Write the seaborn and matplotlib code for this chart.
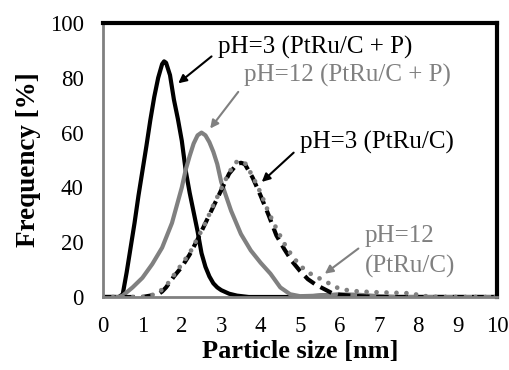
"""Particle size distributions of PtRu catalysts prepared at pH 3 and pH 12."""

import matplotlib.pyplot as plt
import seaborn as sns

# pH=3 (PtRu/C + P) - black solid
size_ph3_p = [0, 0.4, 0.5, 0.6, 0.7, 0.8, 0.9, 1.0, 1.1, 1.2, 1.3, 1.4, 1.5, 1.55, 1.6,
              1.7, 1.8, 1.9, 2.0, 2.1, 2.2, 2.3, 2.4, 2.5, 2.6, 2.7, 2.8, 2.9, 3.0,
              3.2, 3.4, 3.7, 5.0, 5.5, 6.0, 6.5, 7.0, 10]
freq_ph3_p = [0, 0, 1, 9, 18, 27, 37, 46, 55, 64.5, 73, 80, 85, 86, 85.5,
              81, 72, 65, 57, 46, 38, 31, 24, 16, 11, 7.5, 5, 3.5, 2.5,
              1.2, 0.5, 0, 0, 0.5, 0.7, 0.3, 0, 0]

# pH=12 (PtRu/C + P) - grey solid
size_ph12_p = [0, 0.4, 0.5, 0.75, 1.0, 1.25, 1.5, 1.75, 2.0, 2.1, 2.2, 2.3, 2.4, 2.5,
               2.6, 2.7, 2.8, 2.9, 3.0, 3.25, 3.5, 3.75, 4.0, 4.25, 4.5, 4.75, 5.0,
               5.5, 6.0, 6.5, 7.0, 7.5, 10]
freq_ph12_p = [0, 0, 0.5, 3.5, 7, 12, 18, 27, 40, 46.5, 51.5, 56, 59, 60,
               59, 56.5, 53, 48.5, 42, 31.5, 23, 17, 12.5, 8.5, 3.5, 1, 0.3,
               0.5, 1, 0.8, 0.3, 0, 0]

# pH=3 (PtRu/C) - black dashed
size_ph3 = [0, 1.0, 1.2, 1.4, 1.5, 1.6, 1.8, 2.0, 2.2, 2.4, 2.6, 2.8, 3.0, 3.2, 3.4,
            3.5, 3.6, 3.8, 4.0, 4.2, 4.4, 4.6, 4.8, 5.0, 5.2, 5.4, 5.6, 5.8, 6.0,
            6.5, 7.0, 10]
freq_ph3 = [0, 0, 0.5, 1, 2, 3.5, 7.5, 11, 15.5, 21, 27, 33, 39, 45, 48.5,
            49, 48.5, 43.5, 37, 30, 22.5, 17.5, 13, 9.5, 6.5, 4.5, 3, 1.5, 0.8,
            0.3, 0, 0]

# pH=12 (PtRu/C) - grey dotted
size_ph12 = [0, 1.0, 1.2, 1.4, 1.6, 1.8, 2.0, 2.2, 2.4, 2.6, 2.8, 3.0, 3.2, 3.4, 3.6,
             3.8, 4.0, 4.2, 4.4, 4.6, 4.8, 5.0, 5.2, 5.4, 5.6, 5.8, 6.0, 6.2, 6.5,
             7.0, 7.5, 7.9, 8.0, 8.5, 10]
freq_ph12 = [0, 0, 0.5, 1.5, 4, 8, 12, 16, 21.5, 27, 33.5, 39.5, 45.5, 49.5, 49,
             44, 38, 31, 25, 19.5, 15, 11.5, 9, 7.5, 6, 4.5, 3, 2.5, 2,
             1.7, 1.5, 1.3, 0.5, 0, 0]

BLACK = "#000000"
GREY = "#808080"
FONT = ["Liberation Serif", "DejaVu Serif"]

sns.set_theme(style="white")
plt.rcParams["font.family"] = FONT
plt.rcParams["text.color"] = BLACK
plt.rcParams["axes.labelcolor"] = BLACK

fig = plt.figure(figsize=(5.09, 3.70), dpi=100)
ax = fig.add_axes([0.2024, 0.1973, 0.9764 - 0.2024, 0.9378 - 0.1973])

sns.lineplot(x=size_ph3_p, y=freq_ph3_p, ax=ax, color=BLACK, lw=3)
sns.lineplot(x=size_ph12_p, y=freq_ph12_p, ax=ax, color=GREY, lw=3)
sns.lineplot(x=size_ph3, y=freq_ph3, ax=ax, color=BLACK, lw=3,
             linestyle=(0, (3, 1.6)))
sns.lineplot(x=size_ph12, y=freq_ph12, ax=ax, color=GREY, lw=3.4,
             linestyle=(0, (0.01, 2.1)), dash_capstyle="round")

ax.set_xlim(0, 10)
ax.set_ylim(0, 100)
ax.set_xticks(range(0, 11))
ax.set_yticks(range(0, 101, 20))
ax.tick_params(direction="in", length=5, width=1, color=GREY, labelsize=16.5,
               labelcolor=BLACK, pad=14)
ax.set_xlabel("Particle size [nm]", fontsize=19, fontweight="bold",
              color=BLACK, labelpad=2)
ax.set_ylabel("Frequency [%]", fontsize=19.5, fontweight="bold",
              color=BLACK, labelpad=6)

for side in ["top", "right"]:
    ax.spines[side].set_color(BLACK)
    ax.spines[side].set_linewidth(3)
for side in ["left", "bottom"]:
    ax.spines[side].set_color(GREY)
    ax.spines[side].set_linewidth(2)


def arrow(color, rel_y):
    return dict(arrowstyle="-|>", color=color, lw=1.5, mutation_scale=12,
                relpos=(0, rel_y), shrinkA=3, shrinkB=0)


ax.annotate("pH=3 (PtRu/C + P)", xy=(1.91, 78), xytext=(2.92, 91),
            fontsize=18, color=BLACK, va="center", ha="left",
            arrowprops=arrow(BLACK, 0.35))
ax.annotate("pH=12 (PtRu/C + P)", xy=(2.72, 61.5), xytext=(3.58, 81),
            fontsize=18, color=GREY, va="center", ha="left",
            arrowprops=arrow(GREY, 0.1))
ax.annotate("pH=3 (PtRu/C)", xy=(4.03, 42), xytext=(5.0, 56.5),
            fontsize=18, color=BLACK, va="center", ha="left",
            arrowprops=arrow(BLACK, 0.3))
ax.annotate("pH=12\n(PtRu/C)", xy=(5.63, 8.5), xytext=(6.65, 16.6),
            fontsize=18, color=GREY, va="center", ha="left",
            linespacing=1.45, arrowprops=arrow(GREY, 0.65))

fig.savefig("out.png", dpi=100)
